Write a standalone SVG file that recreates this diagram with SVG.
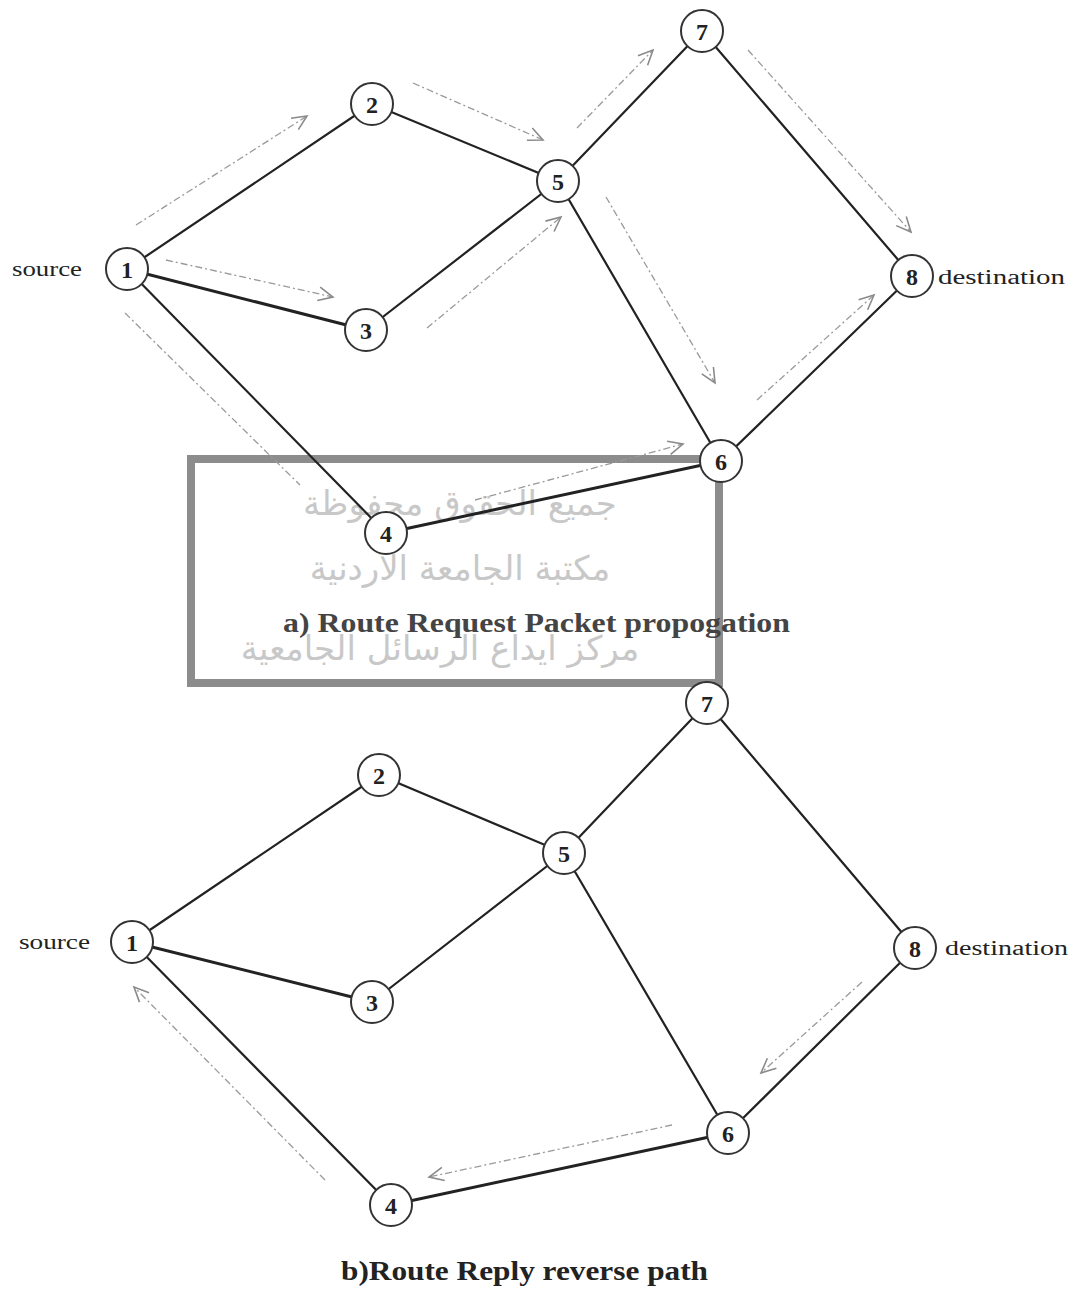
<svg xmlns="http://www.w3.org/2000/svg" width="1073" height="1295" viewBox="0 0 1073 1295">
<style>
.edge{stroke:#222;stroke-width:2.2;fill:none;stroke-linecap:round}
.thick{stroke-width:3}
.flow{stroke:#9a9a9a;stroke-width:1.3;fill:none;stroke-dasharray:7 3 2 3}
.node circle{fill:#fff;stroke:#333;stroke-width:2}
.node text{font-family:"Liberation Serif",serif;font-weight:bold;font-size:24px;fill:#222;text-anchor:middle}
.lbl{font-family:"Liberation Serif",serif;font-size:20px;fill:#222}
.cap{font-family:"Liberation Serif",serif;font-weight:bold;font-size:27px}
.ar{font-family:"DejaVu Sans",sans-serif;font-size:34px;fill:#c8c8c8;text-anchor:middle}
</style>
<defs>
<marker id="ah" markerUnits="userSpaceOnUse" markerWidth="18" markerHeight="18" refX="14" refY="7" orient="auto" viewBox="0 0 16 14">
<path d="M1,1 L14,7 L1,13" fill="none" stroke="#8a8a8a" stroke-width="1.4"/>
</marker>
</defs>
<rect width="1073" height="1295" fill="#fff"/>

<g id="watermark">
<rect x="191" y="459" width="528" height="224" fill="none" stroke="#8c8c8c" stroke-width="8"/>
<text class="ar" x="460" y="515" direction="rtl">جميع الحقوق محفوظة</text>
<text class="ar" x="460" y="580" direction="rtl">مكتبة الجامعة الأردنية</text>
<text class="ar" x="440" y="660" direction="rtl">مركز ايداع الرسائل الجامعية</text>
</g>

<g id="connectors">
<!-- top graph -->
<line class="edge" x1="127" y1="269" x2="372" y2="104"/>
<line class="edge thick" x1="127" y1="269" x2="366" y2="330"/>
<line class="edge" x1="127" y1="269" x2="386" y2="533"/>
<line class="edge" x1="372" y1="104" x2="558" y2="181"/>
<line class="edge" x1="366" y1="330" x2="558" y2="181"/>
<line class="edge" x1="558" y1="181" x2="702" y2="31"/>
<line class="edge" x1="558" y1="181" x2="721" y2="461"/>
<line class="edge" x1="702" y1="31" x2="912" y2="276"/>
<line class="edge" x1="912" y1="276" x2="721" y2="461"/>
<line class="edge thick" x1="386" y1="533" x2="721" y2="461"/>
<!-- bottom graph -->
<line class="edge" x1="132" y1="942" x2="379" y2="775"/>
<line class="edge thick" x1="132" y1="942" x2="372" y2="1002"/>
<line class="edge" x1="132" y1="942" x2="391" y2="1205"/>
<line class="edge" x1="379" y1="775" x2="564" y2="853"/>
<line class="edge" x1="372" y1="1002" x2="564" y2="853"/>
<line class="edge" x1="564" y1="853" x2="707" y2="703"/>
<line class="edge" x1="564" y1="853" x2="728" y2="1133"/>
<line class="edge" x1="707" y1="703" x2="915" y2="948"/>
<line class="edge" x1="915" y1="948" x2="728" y2="1133"/>
<line class="edge thick" x1="391" y1="1205" x2="728" y2="1133"/>
<!-- request flows -->
<line class="flow" x1="136" y1="225" x2="307" y2="116" marker-end="url(#ah)"/>
<line class="flow" x1="413" y1="83" x2="543" y2="140" marker-end="url(#ah)"/>
<line class="flow" x1="166" y1="260" x2="333" y2="297" marker-end="url(#ah)"/>
<line class="flow" x1="427" y1="328" x2="561" y2="217" marker-end="url(#ah)"/>
<line class="flow" x1="125" y1="313" x2="300" y2="485"/>
<line class="flow" x1="475" y1="500" x2="683" y2="444" marker-end="url(#ah)"/>
<line class="flow" x1="577" y1="128" x2="653" y2="50" marker-end="url(#ah)"/>
<line class="flow" x1="748" y1="50" x2="911" y2="232" marker-end="url(#ah)"/>
<line class="flow" x1="606" y1="197" x2="715" y2="383" marker-end="url(#ah)"/>
<line class="flow" x1="757" y1="400" x2="874" y2="295" marker-end="url(#ah)"/>
<!-- reply flows -->
<line class="flow" x1="862" y1="982" x2="761" y2="1073" marker-end="url(#ah)"/>
<line class="flow" x1="672" y1="1125" x2="429" y2="1177" marker-end="url(#ah)"/>
<line class="flow" x1="325" y1="1180" x2="134" y2="987" marker-end="url(#ah)"/>
</g>

<g id="top-n1" class="node"><circle cx="127" cy="269" r="21"/><text x="127" y="278">1</text></g>
<g id="top-n2" class="node"><circle cx="372" cy="104" r="21"/><text x="372" y="113">2</text></g>
<g id="top-n3" class="node"><circle cx="366" cy="330" r="21"/><text x="366" y="339">3</text></g>
<g id="top-n4" class="node"><circle cx="386" cy="533" r="21"/><text x="386" y="542">4</text></g>
<g id="top-n5" class="node"><circle cx="558" cy="181" r="21"/><text x="558" y="190">5</text></g>
<g id="top-n6" class="node"><circle cx="721" cy="461" r="21"/><text x="721" y="470">6</text></g>
<g id="top-n7" class="node"><circle cx="702" cy="31" r="21"/><text x="702" y="40">7</text></g>
<g id="top-n8" class="node"><circle cx="912" cy="276" r="21"/><text x="912" y="285">8</text></g>
<text class="lbl" x="12" y="276" textLength="70" lengthAdjust="spacingAndGlyphs">source</text>
<text class="lbl" x="938" y="284" textLength="127" lengthAdjust="spacingAndGlyphs">destination</text>
<text class="cap" x="283" y="632" fill="#444" textLength="507" lengthAdjust="spacingAndGlyphs">a) Route Request Packet propogation</text>

<g id="bot-n1" class="node"><circle cx="132" cy="942" r="21"/><text x="132" y="951">1</text></g>
<g id="bot-n2" class="node"><circle cx="379" cy="775" r="21"/><text x="379" y="784">2</text></g>
<g id="bot-n3" class="node"><circle cx="372" cy="1002" r="21"/><text x="372" y="1011">3</text></g>
<g id="bot-n4" class="node"><circle cx="391" cy="1205" r="21"/><text x="391" y="1214">4</text></g>
<g id="bot-n5" class="node"><circle cx="564" cy="853" r="21"/><text x="564" y="862">5</text></g>
<g id="bot-n6" class="node"><circle cx="728" cy="1133" r="21"/><text x="728" y="1142">6</text></g>
<g id="bot-n7" class="node"><circle cx="707" cy="703" r="21"/><text x="707" y="712">7</text></g>
<g id="bot-n8" class="node"><circle cx="915" cy="948" r="21"/><text x="915" y="957">8</text></g>
<text class="lbl" x="19" y="949" textLength="71" lengthAdjust="spacingAndGlyphs">source</text>
<text class="lbl" x="945" y="955" textLength="123" lengthAdjust="spacingAndGlyphs">destination</text>
<text class="cap" x="341" y="1280" fill="#222" textLength="367" lengthAdjust="spacingAndGlyphs">b)Route Reply reverse path</text>
</svg>
